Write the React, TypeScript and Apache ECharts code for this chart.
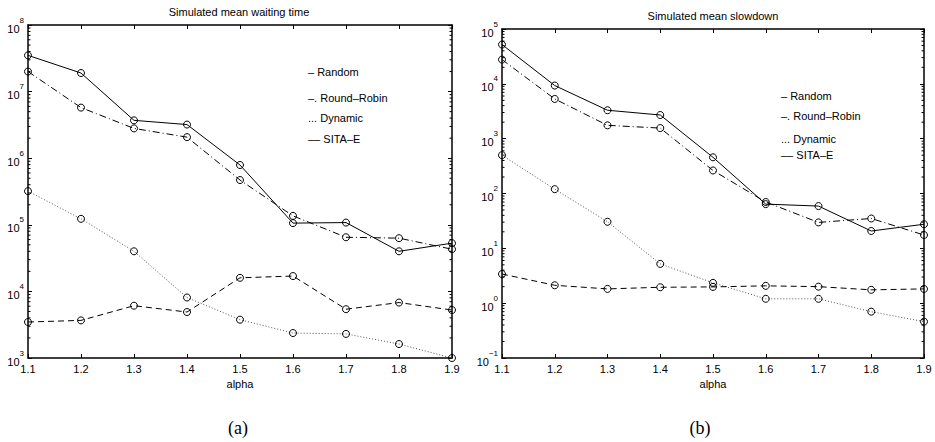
import React, { useEffect, useRef } from "react";
import * as echarts from "echarts";

const alphas = ["1.1", "1.2", "1.3", "1.4", "1.5", "1.6", "1.7", "1.8", "1.9"];

const waitRandom = [3.5e7, 1.9e7, 3.7e6, 3.2e6, 7.9e5, 1.06e5, 1.08e5, 4.0e4, 5.3e4];
const waitRoundRobin = [2.0e7, 5.75e6, 2.8e6, 2.07e6, 4.7e5, 1.36e5, 6.5e4, 6.3e4, 4.3e4];
const waitDynamic = [3.2e5, 1.23e5, 4.0e4, 8.1e3, 3.76e3, 2.37e3, 2.3e3, 1.62e3, 1.0e3];
const waitSita = [3.47e3, 3.67e3, 6.1e3, 4.9e3, 1.6e4, 1.7e4, 5.4e3, 6.8e3, 5.25e3];

const slowRandom = [5.2e4, 9.3e3, 3.3e3, 2.7e3, 457, 64, 59, 20.7, 27.5];
const slowRoundRobin = [2.77e4, 5.3e3, 1.75e3, 1.56e3, 263, 70, 29.7, 35, 17.5];
const slowDynamic = [500, 120, 30.5, 5.2, 2.35, 1.2, 1.2, 0.7, 0.46];
const slowSita = [3.4, 2.12, 1.82, 1.95, 1.98, 2.07, 2.0, 1.75, 1.82];

const waitRange = [1e3, 1e8];
const slowRange = [1e-1, 1e5];

const titles = ["Simulated mean waiting time", "Simulated mean slowdown"];
const panelLabels = ["(a)", "(b)"];
const legendLabels = ["\u2013 Random", "\u2013. Round\u2013Robin", "... Dynamic", "\u2013\u2013 SITA\u2013E"];

const FONT = "'Liberation Sans', Arial, Helvetica, sans-serif";
const SERIF = "'Liberation Serif', 'DejaVu Serif', serif";

const grids = [
  { left: 28, top: 25, width: 424, height: 333 },
  { left: 502, top: 29, width: 422, height: 329 },
];

const lineStyles: any[] = [
  { type: "solid", color: "#000", width: 1 },
  { type: [7, 3, 1, 3], color: "#000", width: 1 },
  { type: [1, 2], color: "#555", width: 1 },
  { type: [6, 4], color: "#000", width: 1 },
];

function supLabel(v: number) {
  const e = Math.round(Math.log10(v));
  const s = e < 0 ? "\u2212" + Math.abs(e) : String(e);
  return "{b|10}{s|" + s + "}";
}

export default function App() {
  const ref = useRef<HTMLDivElement>(null);
  useEffect(() => {
    if (!ref.current) return;
    const chart = echarts.init(ref.current, null, { renderer: "svg" });
    const axisLine = { show: true, lineStyle: { color: "#000", width: 1.5 } };
    const xAxes: any[] = [];
    const yAxes: any[] = [];
    [0, 1].forEach((g) => {
      xAxes.push({
        type: "category",
        gridIndex: g,
        data: alphas,
        boundaryGap: false,
        position: "bottom",
        axisLine,
        axisTick: { show: true, inside: true, length: 4, lineStyle: { color: "#000" } },
        axisLabel: { color: "#000", fontFamily: FONT, fontSize: 11, margin: 5, showMinLabel: true, showMaxLabel: true, interval: 0 },
        name: "alpha",
        nameLocation: "middle",
        nameGap: 20,
        nameTextStyle: { color: "#000", fontFamily: FONT, fontSize: 11 },
        splitLine: { show: false },
      });
      xAxes.push({
        type: "category",
        gridIndex: g,
        data: alphas,
        boundaryGap: false,
        position: "top",
        axisLine,
        axisTick: { show: true, inside: true, length: 4, lineStyle: { color: "#000" } },
        axisLabel: { show: false },
        splitLine: { show: false },
      });
      const range = g === 0 ? waitRange : slowRange;
      const rich = {
        b: { fontSize: 11, fontFamily: FONT, color: "#000", lineHeight: 18, verticalAlign: "bottom" },
        s: { fontSize: 8, fontFamily: FONT, color: "#000", lineHeight: 9, verticalAlign: "top" },
      };
      yAxes.push({
        type: "log",
        logBase: 10,
        gridIndex: g,
        min: range[0],
        max: range[1],
        position: "left",
        axisLine,
        axisTick: { show: true, inside: true, length: 4, lineStyle: { color: "#000" } },
        axisLabel: { formatter: supLabel, rich, margin: 4 },
        splitLine: { show: false },
      });
      yAxes.push({
        type: "log",
        logBase: 10,
        gridIndex: g,
        min: range[0],
        max: range[1],
        position: "right",
        axisLine,
        axisTick: { show: true, inside: true, length: 4, lineStyle: { color: "#000" } },
        axisLabel: { show: false },
        splitLine: { show: false },
      });
    });

    const panels = [
      [waitRandom, waitRoundRobin, waitDynamic, waitSita],
      [slowRandom, slowRoundRobin, slowDynamic, slowSita],
    ];
    const series: any[] = [];
    panels.forEach((sets, g) => {
      sets.forEach((data, i) => {
        series.push({
          type: "line",
          name: legendLabels[i] + g,
          xAxisIndex: g * 2,
          yAxisIndex: g * 2,
          data,
          symbol: "circle",
          symbolSize: 7,
          itemStyle: { color: "transparent", borderColor: "#000", borderWidth: 1 },
          lineStyle: lineStyles[i],
          emphasis: { disabled: true },
        });
      });
    });

    const option: any = {
      animation: false,
      backgroundColor: "#fff",
      grid: grids.map((g) => ({ ...g, containLabel: false })),
      xAxis: xAxes,
      yAxis: yAxes,
      series,
    };
    chart.setOption(option);

    // Minor log ticks (2..9 per decade) placed via the axis scales
    const graphics: any[] = [];
    [0, 1].forEach((g) => {
      const range = g === 0 ? waitRange : slowRange;
      const xl = chart.convertToPixel({ xAxisIndex: g * 2 } as any, 0) as number;
      const xr = chart.convertToPixel({ xAxisIndex: g * 2 } as any, alphas.length - 1) as number;
      const d0 = Math.round(Math.log10(range[0]));
      const d1 = Math.round(Math.log10(range[1]));
      for (let d = d0; d < d1; d++) {
        for (let m = 2; m <= 9; m++) {
          const v = m * Math.pow(10, d);
          const y = chart.convertToPixel({ yAxisIndex: g * 2 } as any, v) as number;
          graphics.push({ type: "line", shape: { x1: xl, y1: y, x2: xl + 2.5, y2: y }, style: { stroke: "#000", lineWidth: 1 }, silent: true });
          graphics.push({ type: "line", shape: { x1: xr - 2.5, y1: y, x2: xr, y2: y }, style: { stroke: "#000", lineWidth: 1 }, silent: true });
        }
      }
    });

    const titlePos = [
      { x: 239, y: 12 },
      { x: 713, y: 16 },
    ];
    titles.forEach((t, i) => {
      graphics.push({ type: "text", x: titlePos[i].x, y: titlePos[i].y, style: { text: t, font: "11px " + FONT, fill: "#000", align: "center", verticalAlign: "middle" }, silent: true });
    });
    const panelPos = [
      { x: 238, y: 428 },
      { x: 700, y: 428 },
    ];
    panelLabels.forEach((t, i) => {
      graphics.push({ type: "text", x: panelPos[i].x, y: panelPos[i].y, style: { text: t, font: "18px " + SERIF, fill: "#000", align: "center", verticalAlign: "middle" }, silent: true });
    });
    const legendPos = [
      { x: 308, ys: [72, 98, 118, 139] },
      { x: 781, ys: [96, 116, 139, 155] },
    ];
    legendPos.forEach((p) => {
      legendLabels.forEach((t, i) => {
        graphics.push({ type: "text", x: p.x, y: p.ys[i], style: { text: t, font: "11px " + FONT, fill: "#000", align: "left", verticalAlign: "middle" }, silent: true });
      });
    });

    chart.setOption({ graphic: graphics });
    return () => chart.dispose();
  }, []);
  return <div ref={ref} style={{ position: "fixed", left: 0, top: 0, width: 935, height: 442 }} />;
}
